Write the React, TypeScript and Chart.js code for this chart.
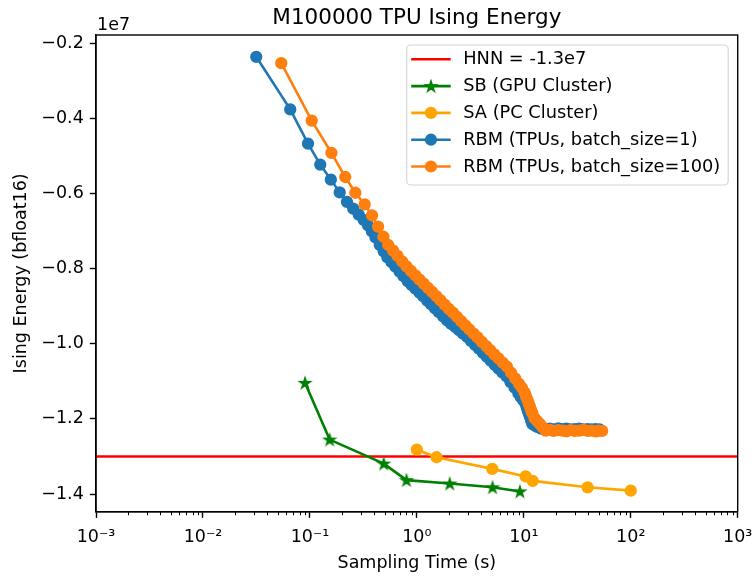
import React, { useEffect, useRef } from 'react';
import { Chart, registerables } from 'chart.js';

Chart.register(...registerables);

const FONT = "'DejaVu Sans', 'Liberation Sans', sans-serif";

// ---- axis setup ----
const xMin = 1e-3;
const xMax = 1e3;
const yMin = -1.447; // ×1e7
const yMax = -0.178; // ×1e7
const xMajorTicks = [1e-3, 1e-2, 1e-1, 1, 10, 100, 1000];
const xTickLabels = ['10⁻³', '10⁻²', '10⁻¹', '10⁰', '10¹', '10²', '10³'];
const yTicks = [-0.2, -0.4, -0.6, -0.8, -1.0, -1.2, -1.4];
const yTickLabels = ['−0.2', '−0.4', '−0.6', '−0.8', '−1.0', '−1.2', '−1.4'];

// ---- data (energy in units of 1e7) ----
const hnnEnergy = -1.3;

const sbTime = [0.09, 0.153, 0.49, 0.8, 2.03, 5.1, 9.2];
const sbEnergy = [-1.104, -1.255, -1.319, -1.363, -1.372, -1.382, -1.393];

const saTime = [1.0, 1.53, 5.07, 10.4, 12.1, 39.5, 100];
const saEnergy = [-1.282, -1.302, -1.333, -1.353, -1.365, -1.382, -1.391];

const rbm1Time = [
  0.0315, 0.0655, 0.096, 0.125, 0.157, 0.19, 0.222, 0.254, 0.286, 0.318,
  0.35, 0.38, 0.41, 0.45, 0.49, 0.53, 0.58, 0.63, 0.69, 0.75,
  0.82, 0.89, 0.97, 1.06, 1.15, 1.25, 1.36, 1.48, 1.61, 1.76,
  1.92, 2.09, 2.28, 2.48, 2.7, 2.95, 3.2, 3.5, 3.8, 4.15,
  4.5, 4.9, 5.35, 5.8, 6.3, 6.9, 7.5, 8.2, 8.9, 9.4,
  9.9, 10.4, 10.65, 10.9, 11.15, 11.4, 11.7, 12.0, 12.6, 13.3,
  14.5, 16, 17.5, 19, 21, 23, 25, 27.5, 30, 33,
  36, 39.5, 43, 47, 51,
];
const rbm1Energy = [
  -0.236, -0.376, -0.467, -0.523, -0.563, -0.597, -0.622, -0.640, -0.656, -0.670,
  -0.685, -0.701, -0.717, -0.737, -0.754, -0.770, -0.783, -0.795, -0.808, -0.820,
  -0.833, -0.843, -0.853, -0.864, -0.874, -0.885, -0.895, -0.906, -0.916, -0.927,
  -0.938, -0.947, -0.955, -0.964, -0.973, -0.982, -0.992, -1.003, -1.013, -1.024,
  -1.034, -1.045, -1.056, -1.066, -1.076, -1.087, -1.102, -1.117, -1.132, -1.142,
  -1.151, -1.160, -1.169, -1.178, -1.186, -1.194, -1.204, -1.213, -1.217, -1.221,
  -1.226, -1.227, -1.226, -1.228, -1.225, -1.227, -1.226, -1.228, -1.227, -1.226,
  -1.228, -1.227, -1.228, -1.227, -1.228,
];

const rbm100Time = [
  0.054, 0.104, 0.159, 0.214, 0.266, 0.325, 0.381, 0.434, 0.487, 0.54,
  0.6, 0.66, 0.73, 0.8, 0.88, 0.97, 1.06, 1.16, 1.27, 1.39,
  1.52, 1.66, 1.82, 1.99, 2.17, 2.37, 2.6, 2.84, 3.1, 3.4,
  3.7, 4.05, 4.45, 4.85, 5.3, 5.8, 6.35, 6.95, 7.6, 8.3,
  9.0, 9.6, 10.2, 10.5, 10.8, 11.1, 11.4, 11.7, 12.0, 12.6,
  13.3, 14.1, 15, 16, 17.5, 19, 21, 23, 25, 27.5,
  30, 33, 36, 39.5, 43, 47, 50, 54,
];
const rbm100Energy = [
  -0.253, -0.406, -0.492, -0.556, -0.598, -0.629, -0.658, -0.688, -0.715, -0.737,
  -0.752, -0.766, -0.781, -0.794, -0.806, -0.818, -0.829, -0.840, -0.851, -0.862,
  -0.873, -0.884, -0.896, -0.907, -0.917, -0.928, -0.940, -0.951, -0.962, -0.973,
  -0.983, -0.995, -1.006, -1.017, -1.028, -1.039, -1.050, -1.061, -1.077, -1.092,
  -1.106, -1.117, -1.130, -1.140, -1.149, -1.158, -1.167, -1.176, -1.184, -1.198,
  -1.205, -1.213, -1.222, -1.231, -1.229, -1.232, -1.230, -1.231, -1.233, -1.230,
  -1.232, -1.231, -1.229, -1.232, -1.231, -1.233, -1.231, -1.232,
];

const seriesLabels = [
  'HNN = -1.3e7',
  'SB (GPU Cluster)',
  'SA (PC Cluster)',
  'RBM (TPUs, batch_size=1)',
  'RBM (TPUs, batch_size=100)',
];
const seriesColors = ['#ff0000', '#008000', '#ffa500', '#1f77b4', '#ff7f0e'];

const W = 752;
const H = 577;

function makeStar(color: string, outer: number): HTMLCanvasElement {
  const inner = outer * 0.382;
  const size = Math.ceil(outer * 2 + 4);
  const c = document.createElement('canvas');
  c.width = size;
  c.height = size;
  const g = c.getContext('2d')!;
  g.translate(size / 2, size / 2 + 0.5);
  g.beginPath();
  for (let i = 0; i < 10; i++) {
    const r = i % 2 === 0 ? outer : inner;
    const ang = -Math.PI / 2 + (i * Math.PI) / 5;
    g.lineTo(r * Math.cos(ang), r * Math.sin(ang));
  }
  g.closePath();
  g.fillStyle = color;
  g.fill();
  g.strokeStyle = color;
  g.lineWidth = 1.4;
  g.lineJoin = 'miter';
  g.stroke();
  return c;
}

function pts(xs: number[], ys: number[]) {
  return xs.map((x, i) => ({ x, y: ys[i] }));
}

export default function App() {
  const ref = useRef<HTMLCanvasElement | null>(null);

  useEffect(() => {
    if (!ref.current) return;
    const star = makeStar(seriesColors[1], 5.8);
    const markers: ('none' | 'star' | 'circle')[] = ['none', 'star', 'circle', 'circle', 'circle'];

    const decor = {
      id: 'decor',
      beforeDraw(chart: any) {
        const ctx = chart.ctx;
        ctx.save();
        ctx.fillStyle = '#ffffff';
        ctx.fillRect(0, 0, chart.width, chart.height);
        ctx.restore();
      },
      afterDraw(chart: any) {
        const ctx: CanvasRenderingContext2D = chart.ctx;
        const a = chart.chartArea;
        const xs = chart.scales.x;
        ctx.save();
        // minor x ticks
        ctx.strokeStyle = '#000';
        ctx.lineWidth = 1.05;
        for (let d = -3; d < 3; d++) {
          for (let m = 2; m <= 9; m++) {
            const v = m * Math.pow(10, d);
            const px = Math.round(xs.getPixelForValue(v)) + 0.5;
            ctx.beginPath();
            ctx.moveTo(px, a.bottom);
            ctx.lineTo(px, a.bottom + 3.5);
            ctx.stroke();
          }
        }
        // frame
        ctx.lineWidth = 1.4;
        ctx.strokeRect(a.left, a.top, a.right - a.left, a.bottom - a.top);

        // title
        ctx.fillStyle = '#000';
        ctx.font = `21.5px ${FONT}`;
        ctx.textAlign = 'center';
        ctx.textBaseline = 'alphabetic';
        ctx.fillText('M100000 TPU Ising Energy', (a.left + a.right) / 2, 24);

        // offset text
        ctx.font = `17.5px ${FONT}`;
        ctx.textAlign = 'left';
        ctx.fillText('1e7', a.left + 1, 29.5);

        // x label
        ctx.textAlign = 'center';
        ctx.fillText('Sampling Time (s)', (a.left + a.right) / 2, 567.5);

        // y label
        ctx.save();
        ctx.translate(21.5, (a.top + a.bottom) / 2);
        ctx.rotate(-Math.PI / 2);
        ctx.textBaseline = 'middle';
        ctx.fillText('Ising Energy (bfloat16)', 0, 0);
        ctx.restore();

        // legend
        ctx.font = `17.8px ${FONT}`;
        let textW = 0;
        seriesLabels.forEach((l) => {
          textW = Math.max(textW, ctx.measureText(l).width);
        });
        const boxRight = a.right - 9.5;
        const boxTop = a.top + 10;
        const padL = 4.5;
        const handleLen = 39.5;
        const gap = 12.5;
        const boxW = padL + handleLen + gap + textW + 8;
        const boxLeft = boxRight - boxW;
        const rowH = 26.8;
        const boxH = 140;
        ctx.beginPath();
        if ((ctx as any).roundRect) {
          (ctx as any).roundRect(boxLeft, boxTop, boxW, boxH, 4);
        } else {
          ctx.rect(boxLeft, boxTop, boxW, boxH);
        }
        ctx.fillStyle = 'rgba(255,255,255,0.8)';
        ctx.fill();
        ctx.strokeStyle = '#d6d6d6';
        ctx.lineWidth = 1.2;
        ctx.stroke();

        seriesLabels.forEach((label, i) => {
          const cy = boxTop + 14.3 + i * rowH;
          const hx0 = boxLeft + padL;
          const hx1 = hx0 + handleLen;
          ctx.strokeStyle = seriesColors[i];
          ctx.lineWidth = 2.6;
          ctx.beginPath();
          ctx.moveTo(hx0, cy);
          ctx.lineTo(hx1, cy);
          ctx.stroke();
          const mx = (hx0 + hx1) / 2;
          if (markers[i] === 'circle') {
            ctx.fillStyle = seriesColors[i];
            ctx.beginPath();
            ctx.arc(mx, cy, 6.1, 0, Math.PI * 2);
            ctx.fill();
          } else if (markers[i] === 'star') {
            ctx.drawImage(star, mx - star.width / 2, cy - star.height / 2);
          }
          ctx.fillStyle = '#000';
          ctx.textAlign = 'left';
          ctx.textBaseline = 'middle';
          ctx.fillText(label, hx1 + gap, cy + 0.5);
        });
        ctx.restore();
      },
    };

    const lineDs = (i: number, data: any[], order: number, pointStyle: any) => ({
      label: seriesLabels[i],
      data,
      borderColor: seriesColors[i],
      backgroundColor: seriesColors[i],
      pointBackgroundColor: seriesColors[i],
      pointBorderColor: seriesColors[i],
      pointBorderWidth: 1.7,
      pointRadius: pointStyle === false ? 0 : 5.3,
      pointStyle: pointStyle === false ? 'circle' : pointStyle,
      borderWidth: 2.6,
      tension: 0,
      fill: false,
      order,
    });

    const chart = new Chart(ref.current, {
      type: 'line',
      data: {
        datasets: [
          lineDs(0, [{ x: xMin, y: hnnEnergy }, { x: xMax, y: hnnEnergy }], 5, false),
          lineDs(1, pts(sbTime, sbEnergy), 4, star),
          lineDs(2, pts(saTime, saEnergy), 3, 'circle'),
          lineDs(3, pts(rbm1Time, rbm1Energy), 2, 'circle'),
          lineDs(4, pts(rbm100Time, rbm100Energy), 1, 'circle'),
        ] as any,
      },
      options: {
        responsive: false,
        animation: false,
        devicePixelRatio: 1,
        events: [],
        layout: { padding: { top: 35, right: 14.3, bottom: 0, left: 0 } },
        plugins: {
          legend: { display: false },
          title: { display: false },
          tooltip: { enabled: false },
        },
        scales: {
          x: {
            type: 'logarithmic',
            min: xMin,
            max: xMax,
            afterBuildTicks: (scale: any) => {
              scale.ticks = xMajorTicks.map((v) => ({ value: v }));
            },
            afterFit: (scale: any) => {
              scale.height = H - 511.7;
              scale.paddingLeft = 0;
              scale.paddingRight = 0;
            },
            ticks: {
              autoSkip: false,
              maxRotation: 0,
              minRotation: 0,
              padding: 9,
              color: '#000',
              font: { family: FONT, size: 17.5 },
              callback: (_v: any, i: number) => xTickLabels[i],
            },
            grid: {
              display: true,
              drawOnChartArea: false,
              drawTicks: true,
              tickLength: 6.2,
              tickColor: '#000',
              tickWidth: 1.4,
            },
            border: { display: true, color: '#000', width: 1.4 },
          },
          y: {
            type: 'linear',
            min: yMin,
            max: yMax,
            afterBuildTicks: (scale: any) => {
              scale.ticks = yTicks.map((v) => ({ value: v }));
            },
            afterFit: (scale: any) => {
              scale.width = 96;
              scale.paddingTop = 0;
              scale.paddingBottom = 0;
            },
            ticks: {
              padding: 6,
              color: '#000',
              font: { family: FONT, size: 17.5 },
              callback: (_v: any, i: number) => yTickLabels[i],
            },
            grid: {
              display: true,
              drawOnChartArea: false,
              drawTicks: true,
              tickLength: 6.2,
              tickColor: '#000',
              tickWidth: 1.4,
            },
            border: { display: true, color: '#000', width: 1.4 },
          },
        },
      } as any,
      plugins: [decor],
    });

    return () => chart.destroy();
  }, []);

  return (
    <div style={{ position: 'absolute', left: 0, top: 0, width: W, height: H, background: '#fff' }}>
      <canvas ref={ref} width={W} height={H} style={{ width: W, height: H, display: 'block' }} />
    </div>
  );
}
